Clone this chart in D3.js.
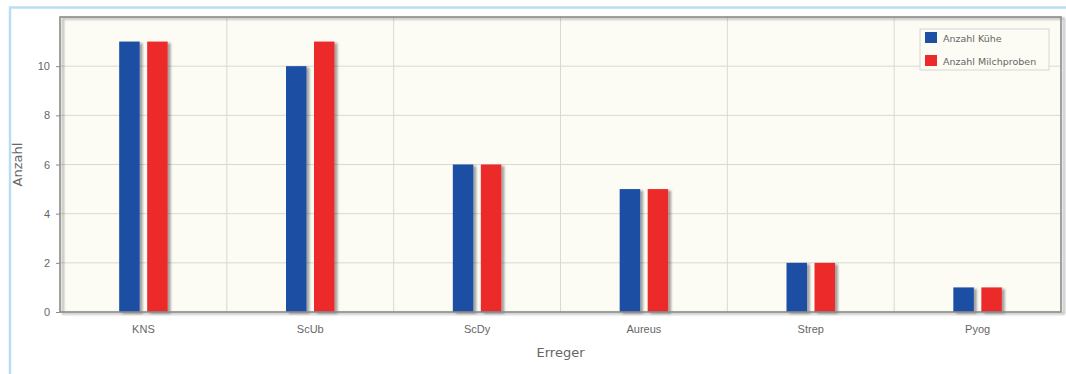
<!DOCTYPE html>
<html>
<head>
<meta charset="utf-8">
<script src="https://cdn.jsdelivr.net/npm/d3@7"></script>
<style>
  html, body { margin: 0; padding: 0; background: #ffffff; }
  svg { display: block; font-family: "DejaVu Sans", "Open Sans", sans-serif; }
</style>
</head>
<body>
<svg id="chart" width="1066" height="374"></svg>
<script>
// Pathogen counts: cows and milk samples per pathogen
const categories = ["KNS", "ScUb", "ScDy", "Aureus", "Strep", "Pyog"];
const seriesNames = ["Anzahl Kühe", "Anzahl Milchproben"];
const kuehe = [11, 10, 6, 5, 2, 1];
const milchproben = [11, 11, 6, 5, 2, 1];
const yTicks = [0, 2, 4, 6, 8, 10];
const colors = ["#1d4fa3", "#ec2a2c"];

const svg = d3.select("#chart");
const margin = { left: 60, top: 17, right: 1061, bottom: 312 };
const textColor = "#666";

// Defs: soft drop shadow for bars and plot frame
const defs = svg.append("defs");
const f = defs.append("filter").attr("id", "shadow")
  .attr("x", "-30%").attr("y", "-10%").attr("width", "180%").attr("height", "130%");
f.append("feDropShadow").attr("dx", 3).attr("dy", 1.5)
  .attr("stdDeviation", 1.3).attr("flood-color", "#000").attr("flood-opacity", 0.35);

// Outer light-blue frame
svg.append("path")
  .attr("d", "M10,374 L10,7.5 L1066,7.5")
  .attr("fill", "none").attr("stroke", "#b8def3").attr("stroke-width", 2.5);

const x = d3.scaleBand().domain(categories).range([margin.left, margin.right]);
const y = d3.scaleLinear().domain([0, 12]).range([margin.bottom, margin.top]);

// Plot background
svg.append("rect")
  .attr("x", margin.left).attr("y", margin.top)
  .attr("width", margin.right - margin.left).attr("height", margin.bottom - margin.top)
  .attr("fill", "#fcfbf4");

// Horizontal grid
svg.append("g").selectAll("line").data(yTicks.filter(d => d > 0)).join("line")
  .attr("x1", margin.left).attr("x2", margin.right)
  .attr("y1", d => y(d)).attr("y2", d => y(d))
  .attr("stroke", "#d9d8d2").attr("stroke-width", 1);

// Vertical grid at category boundaries
svg.append("g").selectAll("line").data(categories.slice(1)).join("line")
  .attr("x1", d => x(d)).attr("x2", d => x(d))
  .attr("y1", margin.top).attr("y2", margin.bottom)
  .attr("stroke", "#d9d8d2").attr("stroke-width", 1);

// Bars
const barW = 20.5, gap = 7.5;
const data = categories.map((c, i) => ({ c, vals: [kuehe[i], milchproben[i]] }));
const barG = svg.append("g").attr("filter", "url(#shadow)");
data.forEach(d => {
  const cx = x(d.c) + x.bandwidth() / 2;
  d.vals.forEach((v, j) => {
    const bx = j === 0 ? cx - gap / 2 - barW : cx + gap / 2;
    barG.append("rect")
      .attr("x", bx).attr("y", y(v))
      .attr("width", barW).attr("height", y(0) - y(v))
      .attr("fill", colors[j]);
  });
});

// Plot frame with shadow on right and bottom
svg.append("rect")
  .attr("x", margin.left).attr("y", margin.top)
  .attr("width", margin.right - margin.left).attr("height", margin.bottom - margin.top)
  .attr("fill", "none").attr("stroke", "#8a8a8a").attr("stroke-width", 1.6)
  .attr("filter", "url(#shadow)");

// Y axis
const yAxis = d3.axisLeft(y).tickValues(yTicks).tickSize(4).tickPadding(6).tickFormat(d3.format("d"));
const gy = svg.append("g").attr("transform", `translate(${margin.left},0)`).call(yAxis);
gy.select(".domain").remove();
gy.selectAll("line").attr("stroke", "#8a8a8a");
gy.selectAll("text").attr("fill", textColor).attr("font-size", 11);

// X axis
const xAxis = d3.axisBottom(x).tickSize(0).tickPadding(13);
const gx = svg.append("g").attr("transform", `translate(0,${margin.bottom})`).call(xAxis);
gx.select(".domain").remove();
gx.selectAll("text").attr("fill", textColor).attr("font-size", 11);

// Axis titles
svg.append("text")
  .attr("x", (margin.left + margin.right) / 2).attr("y", 357)
  .attr("text-anchor", "middle").attr("fill", textColor).attr("font-size", 13)
  .text("Erreger");
svg.append("text")
  .attr("transform", `translate(22,${(margin.top + margin.bottom) / 2}) rotate(-90)`)
  .attr("text-anchor", "middle").attr("fill", textColor).attr("font-size", 13)
  .text("Anzahl");

// Legend
const lg = svg.append("g").attr("transform", "translate(920,29)");
lg.append("rect").attr("width", 129).attr("height", 41)
  .attr("fill", "#fcfbf4").attr("stroke", "#d6d6d6").attr("stroke-width", 1);
seriesNames.forEach((name, i) => {
  const row = lg.append("g").attr("transform", `translate(5,${3 + i * 23})`);
  row.append("rect").attr("width", 12).attr("height", 11).attr("fill", colors[i]);
  row.append("text").attr("x", 18).attr("y", 9.5)
    .attr("font-size", 9.5).attr("fill", textColor).text(name);
});
</script>
</body>
</html>
